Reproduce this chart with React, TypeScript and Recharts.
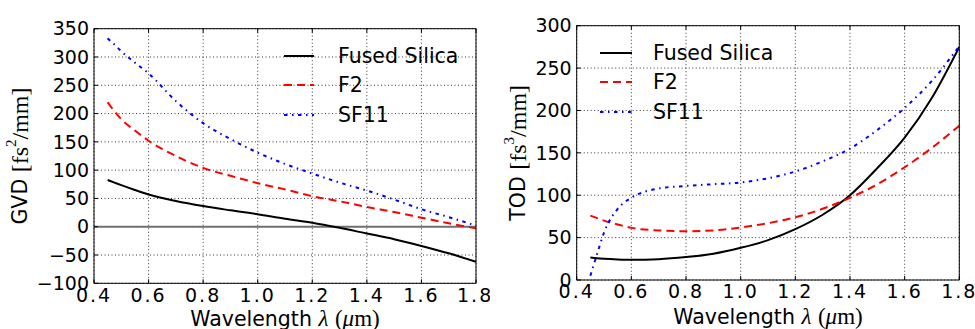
import React from "react";
import { LineChart, Line, XAxis, YAxis, CartesianGrid, ReferenceLine, Legend } from "recharts";

// wavelength in micrometres
const WAVELENGTH = [0.45, 0.475, 0.5, 0.55, 0.6, 0.7, 0.8, 0.9, 1.0, 1.1, 1.2, 1.3, 1.4, 1.5, 1.6, 1.7, 1.8];

// group velocity dispersion, fs^2/mm
const GVD_FUSED = [82.5, 78, 73.5, 65, 57, 45.5, 36.5, 29, 22, 14, 7, -2, -12, -22, -34, -47, -62];
const GVD_F2 = [220, 204, 190, 170, 152, 125, 104, 90, 77, 66, 54, 45, 35, 26, 16, 6, -3];
const GVD_SF11 = [333, 322, 310, 290, 271, 222, 183, 155, 131, 111, 94, 78, 64, 48, 31, 17, 2];

// third order dispersion, fs^3/mm
const TOD_FUSED = [26.5, 25.6, 25, 24.2, 23.8, 24.5, 27, 31, 38, 47, 60, 77, 100, 132, 168, 215, 275];
const TOD_F2 = [76, 73, 70, 65.5, 61.5, 58.5, 57.5, 58.5, 62, 67, 74, 84, 97, 113, 133, 156, 182];
const TOD_SF11 = [5, 31, 56, 84, 97, 108, 111, 113, 115, 120, 128, 140, 155, 177, 203, 235, 276];

const X_TICKS = [0.4, 0.6, 0.8, 1.0, 1.2, 1.4, 1.6, 1.8];
const GVD_TICKS = [-100, -50, 0, 50, 100, 150, 200, 250, 300, 350];
const TOD_TICKS = [0, 50, 100, 150, 200, 250, 300];

const SANS = "'DejaVu Sans', sans-serif";
const SERIF = "'Liberation Serif', serif";

const SERIES = [
  { key: "fused", name: "Fused Silica", color: "#000000", dash: undefined as string | undefined },
  { key: "f2", name: "F2", color: "#ff0000", dash: "8 5" },
  { key: "sf11", name: "SF11", color: "#0000ff", dash: "3.5 4.5 1.5 4.5" },
];

const rows = (fused: number[], f2: number[], sf11: number[]) =>
  WAVELENGTH.map((wl, i) => ({ wl, fused: fused[i], f2: f2[i], sf11: sf11[i] }));

const fmtTick = (v: number) => String(v).replace("-", "\u2212");

function MaterialLegend({ lineLen, gap }: { lineLen: number; gap: number }) {
  return (
    <div>
      {SERIES.map((s) => (
        <div key={s.key} style={{ display: "flex", alignItems: "center", height: 29.5 }}>
          <svg width={lineLen} height={6} style={{ display: "block" }}>
            <line x1={0} y1={3} x2={lineLen} y2={3} stroke={s.color} strokeWidth={2} strokeDasharray={s.dash} />
          </svg>
          <span style={{ marginLeft: gap, fontFamily: SANS, fontSize: 20.5, lineHeight: "20px", color: "#000" }}>{s.name}</span>
        </div>
      ))}
    </div>
  );
}

type PanelProps = {
  data: any[];
  width: number;
  left: number;
  margin: { top: number; right: number; bottom: number; left: number };
  yDomain: [number, number];
  yTicks: number[];
  yName: string;
  yPower: string;
  yTitleX: number;
  xTitleY: number;
  legendLeft: number;
  legendTop: number;
  legendLine: number;
  legendGap: number;
  zeroLine?: boolean;
};

function Panel(p: PanelProps) {
  const tickStyle = { fill: "#000", fontFamily: SANS, fontSize: 19 };
  return (
    <div style={{ position: "absolute", left: p.left, top: 0 }}>
      <LineChart width={p.width} height={329} data={p.data} margin={p.margin}>
        <CartesianGrid stroke="#000" strokeWidth={0.8} strokeDasharray="1 2.5" />
        <XAxis
          type="number"
          dataKey="wl"
          domain={[0.4, 1.8]}
          ticks={X_TICKS}
          height={20}
          allowDataOverflow
          tickFormatter={(v: number) => v.toFixed(1)}
          tick={{ ...tickStyle, letterSpacing: 2 }}
          tickSize={-4}
          tickMargin={9}
          axisLine={{ stroke: "#000" }}
          tickLine={{ stroke: "#000" }}
          label={{
            content: ({ viewBox }: any) => (
              <text x={viewBox.x + viewBox.width / 2} y={p.xTitleY} textAnchor="middle" fontFamily={SANS} fontSize={20.5} fill="#000">
                Wavelength{" "}
                <tspan fontFamily={SERIF} fontStyle="italic" fontSize={23}>λ</tspan>{" "}
                <tspan fontFamily={SERIF} fontSize={23}>(</tspan>
                <tspan fontFamily={SERIF} fontStyle="italic" fontSize={23}>μ</tspan>
                <tspan fontFamily={SERIF} fontSize={23}>m)</tspan>
              </text>
            ),
          }}
        />
        <XAxis
          xAxisId="top"
          orientation="top"
          type="number"
          dataKey="wl"
          domain={[0.4, 1.8]}
          ticks={X_TICKS}
          height={1}
          tickFormatter={() => ""}
          tickSize={-4}
          axisLine={{ stroke: "#000" }}
          tickLine={{ stroke: "#000" }}
        />
        <YAxis
          type="number"
          domain={p.yDomain}
          ticks={p.yTicks}
          width={10}
          allowDataOverflow
          tickFormatter={fmtTick}
          tick={tickStyle}
          tickSize={-4}
          tickMargin={9}
          axisLine={{ stroke: "#000" }}
          tickLine={{ stroke: "#000" }}
          label={{
            content: ({ viewBox }: any) => {
              const cy = viewBox.y + viewBox.height / 2;
              return (
                <text
                  x={p.yTitleX}
                  y={cy}
                  transform={`rotate(-90 ${p.yTitleX} ${cy})`}
                  textAnchor="middle"
                  dominantBaseline="central"
                  fontFamily={SANS}
                  fontSize={20.5}
                  fill="#000"
                >
                  {p.yName}{" "}
                  <tspan fontFamily={SERIF} fontSize={24}>[fs</tspan>
                  <tspan fontFamily={SERIF} fontSize={15} dy={-9}>{p.yPower}</tspan>
                  <tspan fontFamily={SERIF} fontSize={24} dy={9}>/mm]</tspan>
                </text>
              );
            },
          }}
        />
        <YAxis
          yAxisId="right"
          orientation="right"
          type="number"
          domain={p.yDomain}
          ticks={p.yTicks}
          width={1}
          tickFormatter={() => ""}
          tickSize={-4}
          axisLine={{ stroke: "#000" }}
          tickLine={{ stroke: "#000" }}
        />
        {p.zeroLine && <ReferenceLine y={0} stroke="#707070" strokeWidth={2} />}
        <Legend
          layout="vertical"
          align="center"
          verticalAlign="middle"
          wrapperStyle={{ left: p.legendLeft, top: p.legendTop, width: "auto" }}
          content={() => <MaterialLegend lineLen={p.legendLine} gap={p.legendGap} />}
        />
        {SERIES.map((s) => (
          <Line
            key={s.key}
            type="monotone"
            dataKey={s.key}
            name={s.name}
            stroke={s.color}
            strokeWidth={2}
            strokeDasharray={s.dash}
            dot={false}
            activeDot={false}
            isAnimationActive={false}
          />
        ))}
      </LineChart>
    </div>
  );
}

export default function App() {
  return (
    <div style={{ position: "absolute", left: 0, top: 0, width: 975, height: 329, background: "#fff" }}>
      <Panel
        data={rows(GVD_FUSED, GVD_F2, GVD_SF11)}
        width={490}
        left={0}
        margin={{ top: 27.7, right: 13, bottom: 25.7, left: 84 }}
        yDomain={[-100, 350]}
        yTicks={GVD_TICKS}
        yName="GVD"
        yPower="2"
        yTitleX={20}
        xTitleY={326}
        legendLeft={284}
        legendTop={41}
        legendLine={30}
        legendGap={24}
        zeroLine
      />
      <Panel
        data={rows(TOD_FUSED, TOD_F2, TOD_SF11)}
        width={485}
        left={490}
        margin={{ top: 24.7, right: 14.7, bottom: 29, left: 76.7 }}
        yDomain={[0, 300]}
        yTicks={TOD_TICKS}
        yName="TOD"
        yPower="3"
        yTitleX={28}
        xTitleY={324}
        legendLeft={110}
        legendTop={38}
        legendLine={32}
        legendGap={21}
      />
    </div>
  );
}
